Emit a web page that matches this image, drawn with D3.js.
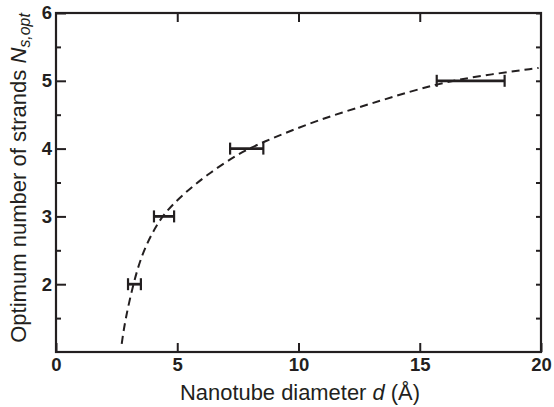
<!DOCTYPE html>
<html>
<head>
<meta charset="utf-8">
<script src="https://cdn.jsdelivr.net/npm/d3@7"></script>
<style>
  body { margin: 0; background: #fff; }
  text { font-family: "Liberation Sans", Arial, sans-serif; fill: #231f20; }
</style>
</head>
<body>
<div class="svg-target"></div>
<script>
// measured points: diameter (Å) with error range, optimum strand count
const strands = [2, 3, 4, 5];
const dLow = [2.97, 4.04, 7.18, 15.7];
const dHigh = [3.5, 4.87, 8.55, 18.5];

// dashed fit curve
const fitD = [2.71, 2.85, 3.19, 3.53, 4.01, 4.49, 5.25, 6.21, 7.45, 8.41, 10.75, 13.5, 15.7, 17.6, 19.9];
const fitN = [1.12, 1.47, 2.01, 2.43, 2.79, 3.06, 3.33, 3.61, 3.91, 4.08, 4.42, 4.72, 4.96, 5.08, 5.19];

const xTicks = [0, 5, 10, 15, 20];
const yTicks = [2, 3, 4, 5, 6];
const yMinor = [1.5, 2.5, 3.5, 4.5, 5.5];

const w = 554;
const h = 407;
const m = { left: 56, right: 13, top: 13, bottom: 55 };
const ink = '#231f20';

const svg = d3.select('.svg-target')
    .append('svg')
    .attr('width', w)
    .attr('height', h);

const x = d3.scaleLinear().domain([0, 20]).range([m.left, w - m.right]);
const y = d3.scaleLinear().domain([1, 6]).range([h - m.bottom, m.top]);

// frame
svg.append('rect')
    .attr('x', x(0))
    .attr('y', y(6))
    .attr('width', x(20) - x(0))
    .attr('height', y(1) - y(6))
    .attr('fill', 'none')
    .attr('stroke', ink)
    .attr('stroke-width', 2.2);

// ticks pointing inward
const tickStyle = g => {
    g.select('.domain').remove();
    g.selectAll('.tick line').attr('stroke', ink).attr('stroke-width', 2);
};

svg.append('g')
    .attr('transform', `translate(0, ${y(1)})`)
    .call(d3.axisBottom(x).tickValues(xTicks).tickSizeInner(-9).tickSizeOuter(0).tickPadding(6).tickFormat(d3.format('d')))
    .call(tickStyle)
    .call(g => g.selectAll('.tick text')
        .attr('font-size', 18.5).attr('font-weight', 'bold').attr('fill', ink));

svg.append('g')
    .attr('transform', `translate(0, ${y(6)})`)
    .call(d3.axisTop(x).tickValues(xTicks.slice(1, 4)).tickSizeInner(-9).tickSizeOuter(0).tickFormat(''))
    .call(tickStyle);

svg.append('g')
    .attr('transform', `translate(${x(0)}, 0)`)
    .call(d3.axisLeft(y).tickValues(yTicks).tickSizeInner(-10).tickSizeOuter(0).tickPadding(4).tickFormat(d3.format('d')))
    .call(tickStyle)
    .call(g => g.selectAll('.tick text')
        .attr('font-size', 18.5).attr('font-weight', 'bold').attr('fill', ink));

svg.append('g')
    .attr('transform', `translate(${x(0)}, 0)`)
    .call(d3.axisLeft(y).tickValues(yMinor).tickSizeInner(-5).tickSizeOuter(0).tickFormat(''))
    .call(tickStyle);

svg.append('g')
    .attr('transform', `translate(${x(20)}, 0)`)
    .call(d3.axisRight(y).tickValues(yTicks.concat(yMinor)).tickSizeInner(-5).tickSizeOuter(0).tickFormat(''))
    .call(tickStyle);

// fit curve
const fit = fitD.map((d, i) => [d, fitN[i]]);
svg.append('path')
    .datum(fit)
    .attr('fill', 'none')
    .attr('stroke', ink)
    .attr('stroke-width', 2)
    .attr('stroke-dasharray', '8,5')
    .attr('d', d3.line().x(d => x(d[0])).y(d => y(d[1])).curve(d3.curveBasis));

// error bars
const bars = svg.append('g').attr('stroke', ink).attr('stroke-width', 2.8);
strands.forEach((n, i) => {
    bars.append('line')
        .attr('x1', x(dLow[i])).attr('x2', x(dHigh[i]))
        .attr('y1', y(n)).attr('y2', y(n));
    [dLow[i], dHigh[i]].forEach(v => {
        bars.append('line')
            .attr('x1', x(v)).attr('x2', x(v))
            .attr('y1', y(n) - 6).attr('y2', y(n) + 6)
            .attr('stroke-width', 2.2);
    });
});

// axis titles, sized to span the same length as in the figure
const fitWidth = (t, target) => {
    const len = t.node().getComputedTextLength();
    t.attr('font-size', 20 * target / len);
};

const xt = svg.append('text')
    .attr('x', 300)
    .attr('y', 400)
    .attr('text-anchor', 'middle')
    .attr('font-size', 20);
xt.append('tspan').text('Nanotube diameter ');
xt.append('tspan').attr('font-style', 'italic').text('d');
xt.append('tspan').text(' (Å)');
fitWidth(xt, 240);

const yt = svg.append('text')
    .attr('transform', 'translate(26, 178) rotate(-90)')
    .attr('text-anchor', 'middle')
    .attr('font-size', 20);
yt.append('tspan').text('Optimum number of strands ');
yt.append('tspan').attr('font-style', 'italic').text('N');
yt.append('tspan').attr('font-style', 'italic').attr('font-size', '0.72em').attr('dy', 4).text('s,opt');
fitWidth(yt, 330);
</script>
</body>
</html>
